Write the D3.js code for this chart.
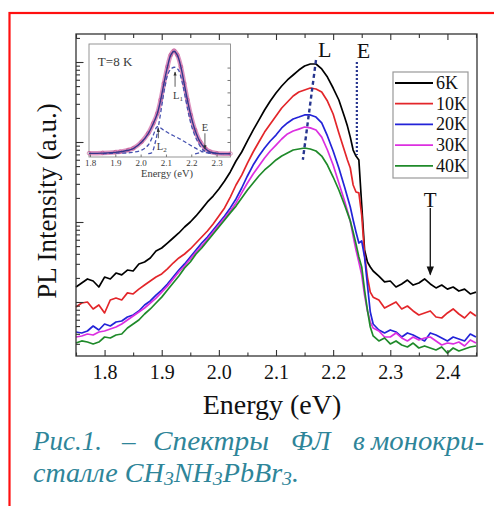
<!DOCTYPE html>
<html>
<head>
<meta charset="utf-8">
<script src="https://cdn.jsdelivr.net/npm/d3@7"></script>
<style>
  body { margin: 0; background: #fff; }
  svg { display: block; }
</style>
</head>
<body>
<svg id="chart" width="494" height="506"></svg>
<script>
// photon energy (eV), shared by all spectra
var energy = [1.75, 1.76, 1.77, 1.78, 1.79, 1.80, 1.81, 1.82, 1.83, 1.84,
  1.85, 1.86, 1.87, 1.88, 1.89, 1.90, 1.91, 1.92, 1.93, 1.94,
  1.95, 1.96, 1.97, 1.98, 1.99, 2.00, 2.01, 2.02, 2.03, 2.04,
  2.05, 2.06, 2.07, 2.08, 2.09, 2.10, 2.11, 2.12, 2.13, 2.14,
  2.15, 2.16, 2.17, 2.18, 2.19, 2.20, 2.21, 2.22, 2.225, 2.23,
  2.235, 2.24, 2.245, 2.25, 2.255, 2.26, 2.265, 2.27, 2.28, 2.29,
  2.30, 2.31, 2.32, 2.33, 2.34, 2.35, 2.36, 2.37, 2.38, 2.39,
  2.40, 2.41, 2.42, 2.43, 2.44, 2.45];

// PL intensity (a.u.) at each temperature
var pl6K = [1.54, 1.73, 1.94, 1.83, 1.54, 2.05, 1.94, 2.30, 2.18, 2.51,
  2.44, 2.99, 3.16, 3.55, 4.34, 4.73, 5.46, 6.31, 7.29, 8.66,
  10.0, 11.9, 14.5, 17.8, 21.1, 25.9, 32.5, 42.2, 57.9, 75.0,
  103, 141, 188, 251, 325, 410, 501, 596, 688, 794,
  891, 944, 944, 818, 649, 473, 335, 205, 158, 115,
  79.4, 66.8, 59.6, 16.3, 4.47, 3.16, 2.74, 2.44, 2.11, 1.78,
  1.83, 1.54, 1.68, 1.88, 1.63, 1.73, 1.94, 1.68, 1.50, 1.63,
  1.45, 1.54, 1.37, 1.45, 1.26, 1.33];
var pl10K = [0.866, 0.971, 1.00, 0.818, 0.917, 0.729, 1.06, 1.12, 1.06, 1.30,
  1.26, 1.45, 1.63, 1.83, 2.05, 2.24, 2.59, 3.07, 3.55, 3.98,
  4.60, 5.46, 6.49, 7.72, 9.44, 11.9, 15.0, 20.5, 29.0, 38.6,
  54.6, 75.0, 100, 133, 168, 211, 266, 316, 376, 422,
  447, 473, 460, 422, 325, 224, 130, 77.2, 59.6, 47.3,
  29.0, 23.7, 23.1, 12.2, 3.87, 2.05, 1.33, 1.15, 1.06, 0.841,
  0.917, 1.00, 0.818, 0.891, 0.772, 0.688, 0.729, 0.772, 0.649, 0.631,
  0.729, 0.818, 0.708, 0.631, 0.750, 0.668];
var pl20K = [0.422, 0.410, 0.434, 0.501, 0.447, 0.531, 0.501, 0.562, 0.579, 0.649,
  0.688, 0.772, 0.917, 1.03, 1.22, 1.41, 1.68, 2.05, 2.51, 2.99,
  3.65, 4.47, 5.46, 6.49, 7.94, 9.72, 11.9, 15.0, 19.4, 26.6,
  37.6, 51.5, 66.8, 84.1, 103, 122, 150, 173, 194, 205,
  218, 218, 205, 173, 119, 77.2, 47.3, 27.4, 20.5, 15.4,
  10.6, 7.50, 5.46, 5.79, 3.65, 1.63, 0.750, 0.531, 0.447, 0.410,
  0.447, 0.422, 0.365, 0.410, 0.387, 0.355, 0.326, 0.410, 0.387, 0.355,
  0.326, 0.365, 0.345, 0.326, 0.398, 0.365];
var pl30K = [0.365, 0.376, 0.398, 0.387, 0.422, 0.434, 0.460, 0.487, 0.531, 0.596,
  0.668, 0.750, 0.841, 0.971, 1.12, 1.33, 1.58, 1.94, 2.37, 2.82,
  3.45, 4.22, 5.01, 6.13, 7.50, 9.17, 11.2, 13.7, 17.3, 23.1,
  30.7, 39.8, 50.1, 63.1, 77.2, 91.6, 109, 126, 137, 145,
  154, 150, 141, 115, 79.4, 51.5, 30.7, 18.3, 13.7, 10.3,
  6.68, 4.47, 3.16, 2.18, 1.22, 0.772, 0.562, 0.473, 0.434, 0.365,
  0.365, 0.410, 0.355, 0.326, 0.365, 0.335, 0.355, 0.365, 0.326, 0.290,
  0.307, 0.299, 0.316, 0.282, 0.335, 0.307];
var pl40K = [0.307, 0.326, 0.316, 0.299, 0.316, 0.365, 0.355, 0.387, 0.398, 0.473,
  0.531, 0.596, 0.708, 0.818, 0.971, 1.15, 1.41, 1.73, 2.11, 2.66,
  3.16, 3.98, 4.73, 5.79, 7.08, 8.66, 10.6, 13.0, 15.8, 20.0,
  25.1, 30.7, 37.6, 44.7, 51.5, 59.6, 66.8, 72.8, 79.4, 81.8,
  84.1, 81.8, 77.2, 66.8, 51.5, 36.5, 25.1, 16.3, 13.0, 10.3,
  7.50, 5.31, 3.65, 2.74, 1.41, 0.794, 0.487, 0.376, 0.326, 0.355,
  0.299, 0.326, 0.290, 0.274, 0.307, 0.266, 0.282, 0.266, 0.251, 0.274,
  0.230, 0.266, 0.244, 0.259, 0.274, 0.282];

var legendLabels = ["6K", "10K", "20K", "30K", "40K"];
var lineColors = ["#000000", "#e3262a", "#2323d8", "#dc2fe0", "#1f8a2a"];
var xTicks = [1.8, 1.9, 2.0, 2.1, 2.2, 2.3, 2.4];
var xMinor = [1.75, 1.85, 1.95, 2.05, 2.15, 2.25, 2.35, 2.45];
var yTicks = [1, 10, 100, 1000];
var yMinor = [0.3, 0.4, 0.5, 0.6, 0.7, 0.8, 0.9, 2, 3, 4, 5, 6, 7, 8, 9,
  20, 30, 40, 50, 60, 70, 80, 90, 200, 300, 400, 500, 600, 700, 800, 900, 2000];

// guide lines: L peak drift and E position, [energy, intensity]
var lineL = [[2.170, 1060], [2.147, 60]];
var lineE = [[2.2415, 1000], [2.2415, 69]];
var arrowT = [[2.37, 15], [2.37, 2.2]];

// inset, T = 8 K, normalised intensity
var insetMeasured = [[1.796, 0.010], [1.85, 0.012], [1.90, 0.018], [1.919, 0.022], [1.95, 0.035],
  [1.971, 0.049], [2.004, 0.102], [2.030, 0.170], [2.050, 0.251], [2.066, 0.331],
  [2.079, 0.439], [2.092, 0.573], [2.106, 0.707], [2.119, 0.802], [2.132, 0.836],
  [2.145, 0.802], [2.159, 0.707], [2.172, 0.573], [2.185, 0.439], [2.198, 0.318],
  [2.215, 0.197], [2.235, 0.102], [2.255, 0.049], [2.274, 0.022], [2.301, 0.009], [2.355, 0.006]];
var insetFit = [[1.796, 0.008], [1.85, 0.010], [1.90, 0.016], [1.95, 0.033], [1.971, 0.047],
  [2.004, 0.100], [2.030, 0.168], [2.050, 0.249], [2.066, 0.330], [2.079, 0.438],
  [2.092, 0.572], [2.106, 0.705], [2.119, 0.800], [2.132, 0.832], [2.145, 0.800],
  [2.159, 0.705], [2.172, 0.571], [2.185, 0.437], [2.198, 0.316], [2.215, 0.195],
  [2.235, 0.100], [2.255, 0.047], [2.274, 0.020], [2.301, 0.008], [2.355, 0.005]];
var insetL1 = [[2.030, 0.006], [2.044, 0.014], [2.057, 0.090], [2.070, 0.223], [2.083, 0.385],
  [2.096, 0.546], [2.109, 0.654], [2.123, 0.694], [2.136, 0.702], [2.149, 0.681],
  [2.162, 0.600], [2.176, 0.465], [2.189, 0.331], [2.202, 0.223], [2.222, 0.116],
  [2.241, 0.049], [2.261, 0.017], [2.287, 0.009], [2.33, 0.006]];
var insetL2 = [[1.85, 0.006], [1.892, 0.009], [1.958, 0.014], [2.004, 0.035], [2.030, 0.076],
  [2.050, 0.156], [2.066, 0.223], [2.090, 0.197], [2.116, 0.165], [2.143, 0.138],
  [2.169, 0.108], [2.195, 0.076], [2.222, 0.044], [2.248, 0.019], [2.274, 0.009], [2.32, 0.006]];
var insetE = [[2.215, 0.005], [2.235, 0.014], [2.250, 0.030], [2.265, 0.018], [2.285, 0.006]];
var insetTicks = [1.8, 1.9, 2.0, 2.1, 2.2, 2.3];
var insetYTicks = [0.1, 0.2, 0.3, 0.4, 0.5, 0.6, 0.7];

var spectra = [pl6K, pl10K, pl20K, pl30K, pl40K];
var SERIF = "'Liberation Serif', 'Times New Roman', serif";

var svg = d3.select("#chart");
var plot = {left: 76, right: 476, top: 34, bottom: 356};

var x = d3.scaleLinear().domain([1.75, 2.45]).range([plot.left, plot.right]);
var y = d3.scaleLog().domain([0.2113, 2239]).range([plot.bottom, plot.top]);

var defs = svg.append("defs");
defs.append("marker").attr("id", "head")
  .attr("viewBox", "0 0 10 10").attr("refX", 9).attr("refY", 5)
  .attr("markerWidth", 7).attr("markerHeight", 7).attr("orient", "auto")
  .append("path").attr("d", "M0,1 L10,5 L0,9 Z").attr("fill", "#111");
defs.append("marker").attr("id", "headSmall")
  .attr("viewBox", "0 0 10 10").attr("refX", 9).attr("refY", 5)
  .attr("markerWidth", 5).attr("markerHeight", 5).attr("orient", "auto")
  .append("path").attr("d", "M0,1 L10,5 L0,9 Z").attr("fill", "#333");

// red page frame
svg.append("rect")
  .attr("x", 9.5).attr("y", 13)
  .attr("width", 520).attr("height", 520)
  .attr("fill", "none").attr("stroke", "#ff1010").attr("stroke-width", 2.2);

// curves
var line = d3.line()
  .x(function(d, i) { return x(energy[i]); })
  .y(function(d) { return y(d); });

svg.append("g").selectAll("path")
  .data(spectra)
  .enter().append("path")
    .attr("d", line)
    .attr("fill", "none")
    .attr("stroke", function(d, i) { return lineColors[i]; })
    .attr("stroke-width", 1.7)
    .attr("stroke-linejoin", "round");

// L and E guides
var guide = d3.line()
  .x(function(d) { return x(d[0]); })
  .y(function(d) { return y(d[1]); });
svg.append("path").attr("d", guide(lineL))
  .attr("fill", "none").attr("stroke", "#27358f")
  .attr("stroke-width", 2.4).attr("stroke-dasharray", "4,3");
svg.append("path").attr("d", guide(lineE))
  .attr("fill", "none").attr("stroke", "#27358f")
  .attr("stroke-width", 2.2).attr("stroke-dasharray", "2,2");
svg.append("text").text("L")
  .attr("x", x(lineL[0][0]) + 2).attr("y", y(lineL[0][1]) - 3)
  .attr("font-size", 22);
svg.append("text").text("E")
  .attr("x", x(lineE[0][0])).attr("y", y(lineE[0][1]) - 4)
  .attr("font-size", 22);

// T arrow
svg.append("path").attr("d", guide(arrowT))
  .attr("stroke", "#111").attr("stroke-width", 1.3)
  .attr("marker-end", "url(#head)");
svg.append("text").text("T")
  .attr("x", x(arrowT[0][0])).attr("y", y(arrowT[0][1]) - 1)
  .attr("text-anchor", "middle").attr("font-size", 21);

// axes, ticks pointing inward
function ticks(axis, vals, size, g) {
  g.call(axis.tickValues(vals).tickSize(-size).tickFormat(""));
  g.select(".domain").remove();
  g.selectAll("line").attr("stroke", "#333").attr("stroke-width", 1.1);
}
ticks(d3.axisBottom(x), xMinor, 3.5, svg.append("g").attr("transform", "translate(0," + plot.bottom + ")"));
ticks(d3.axisTop(x), xMinor, 4, svg.append("g").attr("transform", "translate(0," + plot.top + ")"));
ticks(d3.axisTop(x), xTicks, 6, svg.append("g").attr("transform", "translate(0," + plot.top + ")"));
ticks(d3.axisLeft(y), yMinor, 4, svg.append("g").attr("transform", "translate(" + plot.left + ",0)"));
ticks(d3.axisLeft(y), yTicks, 7.5, svg.append("g").attr("transform", "translate(" + plot.left + ",0)"));

var xAxis = svg.append("g").attr("transform", "translate(0," + plot.bottom + ")")
  .call(d3.axisBottom(x).tickValues(xTicks).tickSize(-6).tickPadding(9)
    .tickFormat(d3.format(".1f")));
xAxis.attr("font-family", null);
xAxis.select(".domain").remove();
xAxis.selectAll("line").attr("stroke", "#333").attr("stroke-width", 1.1);
xAxis.selectAll("text").attr("font-size", 20);

svg.append("rect")
  .attr("x", plot.left).attr("y", plot.top)
  .attr("width", plot.right - plot.left + 1).attr("height", plot.bottom - plot.top)
  .attr("fill", "none").attr("stroke", "#333").attr("stroke-width", 1.3);

svg.append("text").text("Energy (eV)")
  .attr("x", 272).attr("y", 414)
  .attr("text-anchor", "middle").attr("font-size", 28);
svg.append("text").text("PL Intensity (a.u.)")
  .attr("transform", "translate(56,201) rotate(-90)")
  .attr("text-anchor", "middle").attr("font-size", 27);

// legend
var legend = svg.append("g").attr("transform", "translate(393,72)");
legend.append("rect").attr("width", 75).attr("height", 106)
  .attr("fill", "#fff").attr("stroke", "#999").attr("stroke-width", 1.2);
var rows = legend.selectAll("g.row").data(legendLabels).enter().append("g")
  .attr("transform", function(d, i) { return "translate(0," + (11 + i * 20.7) + ")"; });
rows.append("line").attr("x1", 2).attr("x2", 40)
  .attr("stroke", function(d, i) { return lineColors[i]; }).attr("stroke-width", 1.8);
rows.append("text").text(function(d) { return d; })
  .attr("x", 43).attr("y", 6).attr("font-size", 18);

// inset
var ix = d3.scaleLinear().domain([1.796, 2.355]).range([89, 230.5]);
var iy = d3.scaleLinear().domain([-0.021, 0.890]).range([157, 44]);
var inset = svg.append("g");
inset.append("rect").attr("x", 89).attr("y", 44).attr("width", 141.5).attr("height", 113)
  .attr("fill", "#fff").attr("stroke", "#8a8a8a").attr("stroke-width", 0.9);
var iline = d3.line()
  .x(function(d) { return ix(d[0]); })
  .y(function(d) { return iy(d[1]); })
  .curve(d3.curveCatmullRom);
inset.append("path").attr("d", iline(insetMeasured))
  .attr("fill", "none").attr("stroke", "#d986b8").attr("stroke-width", 4.5)
  .attr("stroke-opacity", 0.9);
inset.append("g").selectAll("circle").data(insetMeasured).enter().append("circle")
  .attr("cx", function(d) { return ix(d[0]); })
  .attr("cy", function(d) { return iy(d[1]); })
  .attr("r", 1.8).attr("fill", "none").attr("stroke", "#c0508f").attr("stroke-width", 0.6);
[insetL1, insetL2, insetE].forEach(function(c) {
  inset.append("path").attr("d", iline(c))
    .attr("fill", "none").attr("stroke", "#4652b0").attr("stroke-width", 1.3)
    .attr("stroke-dasharray", "4,2.5");
});
inset.append("path").attr("d", iline(insetFit))
  .attr("fill", "none").attr("stroke", "#35358a").attr("stroke-width", 1.4);

var iax = inset.append("g").attr("transform", "translate(0,157)")
  .call(d3.axisBottom(ix).tickValues(insetTicks).tickSize(-2.5).tickPadding(3)
    .tickFormat(d3.format(".1f")));
iax.attr("font-family", null);
iax.select(".domain").remove();
iax.selectAll("line").attr("stroke", "#777");
iax.selectAll("text").attr("font-size", 9);
var iay = inset.append("g").attr("transform", "translate(230.5,0)")
  .call(d3.axisRight(iy).tickValues(insetYTicks).tickSize(-3).tickFormat(""));
iay.select(".domain").remove();
iay.selectAll("line").attr("stroke", "#777");
inset.append("text").text("Energy (eV)")
  .attr("x", 167).attr("y", 177).attr("text-anchor", "middle")
  .attr("font-size", 10.5);
inset.append("text").text("T=8 K")
  .attr("x", ix(1.831)).attr("y", iy(0.713)).attr("font-size", 13);

function insetArrow(e, i0, i1) {
  inset.append("line")
    .attr("x1", ix(e)).attr("y1", iy(i0)).attr("x2", ix(e)).attr("y2", iy(i1))
    .attr("stroke", "#333").attr("stroke-width", 0.8).attr("marker-end", "url(#headSmall)");
}
insetArrow(2.136, 0.545, 0.665);
insetArrow(2.070, 0.13, 0.21);
insetArrow(2.254, 0.17, 0.045);
var l1 = inset.append("text").attr("x", ix(2.128)).attr("y", iy(0.45)).attr("font-size", 10.5);
l1.append("tspan").text("L");
l1.append("tspan").text("1").attr("font-size", 7).attr("dy", 2);
var l2 = inset.append("text").attr("x", ix(2.064)).attr("y", iy(0.035)).attr("font-size", 10.5);
l2.append("tspan").text("L");
l2.append("tspan").text("2").attr("font-size", 7).attr("dy", 2);
inset.append("text").text("E").attr("x", ix(2.254)).attr("y", iy(0.185))
  .attr("text-anchor", "middle").attr("font-size", 10.5);

// caption, first line justified word by word
var capColor = "#2e8599";
var cap1 = svg.append("text").attr("y", 450).attr("font-size", 27)
  .attr("font-style", "italic").attr("class", "cap");
[["Рис.1.", 33, 0], ["–", 122, 0], ["Спектры", 153, 116],
 ["ФЛ", 291, 0], ["в", 353, 0], ["монокри-", 371, 113]]
  .forEach(function(w) {
    var t = cap1.append("tspan").attr("x", w[1]).text(w[0]);
    if (w[2]) t.attr("textLength", w[2]).attr("lengthAdjust", "spacingAndGlyphs");
  });
var cap2 = svg.append("text").attr("x", 33).attr("y", 482).attr("font-size", 27)
  .attr("font-style", "italic").attr("class", "cap")
  .attr("textLength", 266).attr("lengthAdjust", "spacingAndGlyphs");
cap2.append("tspan").text("сталле CH");
cap2.append("tspan").text("3").attr("font-size", 19).attr("dy", 3);
cap2.append("tspan").text("NH").attr("dy", -3);
cap2.append("tspan").text("3").attr("font-size", 19).attr("dy", 3);
cap2.append("tspan").text("PbBr").attr("dy", -3);
cap2.append("tspan").text("3").attr("font-size", 19).attr("dy", 3);
cap2.append("tspan").text(".").attr("dy", -3);

// Times-like face everywhere, dark ink, grey inset labels, teal caption
svg.selectAll("text").style("font-family", SERIF).style("fill", "#111");
inset.selectAll("text").style("fill", "#3a3a3a");
svg.selectAll("text.cap").style("fill", capColor);
svg.selectAll("text.cap tspan").style("fill", capColor);
</script>
</body>
</html>
